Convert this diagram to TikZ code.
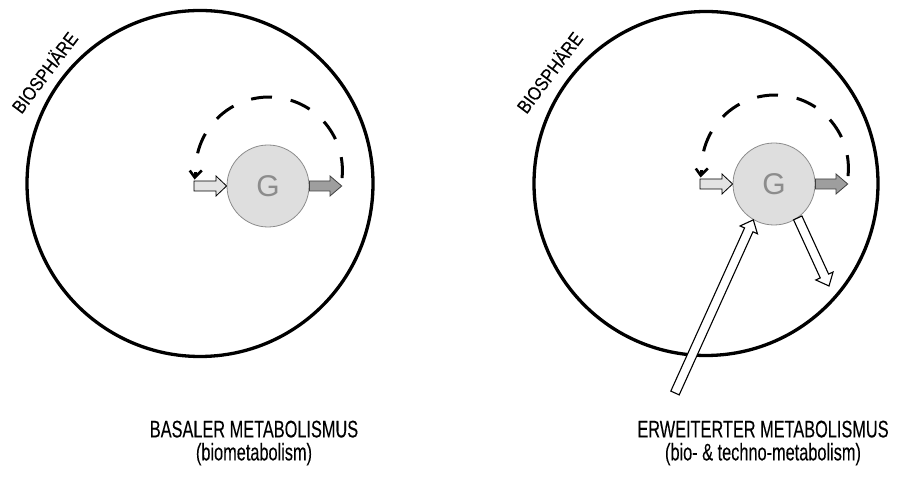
\documentclass[tikz,border=0pt]{standalone}
\usepackage{fontspec}
\setmainfont{Liberation Sans}
\newfontfamily\condfont[FakeStretch=0.68,FakeBold=0.12]{Liberation Sans}
\newfontfamily\biofont[FakeStretch=0.86,FakeBold=0.12]{Liberation Sans}
\usetikzlibrary{calc}

% #1 style, #2 from, #3 to, #4 shaft half width, #5 head half width, #6 head length
\newcommand\blockarrow[6]{%
  \path ($(#3)!#6!(#2)$) coordinate (hb);
  \draw[#1] ($(#2)!#4!90:(#3)$) -- ($(hb)!#4!90:(#3)$) -- ($(hb)!#5!90:(#3)$)
    -- (#3) -- ($(hb)!#5!-90:(#3)$) -- ($(hb)!#4!-90:(#3)$) -- ($(#2)!#4!-90:(#3)$) -- cycle;
}

\tikzset{
  biosphere/.style={draw=black, line width=3.3pt},
  gnode/.style={circle, minimum size=82pt, inner sep=0pt, fill=black!13, draw=black!45,
    line width=0.8pt, text=black!45, font=\fontsize{30}{30}\selectfont},
  inarrow/.style={fill=black!11, draw=black, line width=0.8pt, line join=miter},
  outarrow/.style={fill=black!38, draw=black!75, line width=0.8pt, line join=miter},
  bigarrow/.style={fill=white, draw=black, line width=1.1pt, line join=miter},
  cycarc/.style={line width=3pt, dash pattern=on 21pt off 19pt},
  vtip/.style={line width=2.6pt, line cap=butt, line join=miter},
  lbl/.style={align=center, font=\condfont\fontsize{24}{23}\selectfont},
  bio/.style={font=\biofont\fontsize{19}{19}\selectfont, inner sep=0pt}
}

\begin{document}
\begin{tikzpicture}[x=1pt,y=1pt]
\fill[white] (0,0) rectangle (916,486);
\useasboundingbox (0,0) rectangle (916,486);

% ---------------- left diagram ----------------
\node[biosphere, circle, minimum size=346pt, inner sep=0pt] (B1) at (200,302.5) {};
\node[bio, rotate=53] (T1) at (44,414) {BIOSPHÄRE};
\node[gnode] (G1) at (268,300) {G};
\coordinate (in1) at (194,300);
\coordinate (out1) at (341.7,300);
\blockarrow{inarrow}{in1}{G1.west}{5pt}{10pt}{10.6pt}
\blockarrow{outarrow}{G1.east}{out1}{5pt}{10pt}{11.7pt}
\coordinate (c1) at (269,315.6);
\draw[cycarc] ($(c1)+(-6:73.4)$) arc[start angle=-6, end angle=184, radius=73.4] coordinate (e1);
\draw[vtip] ($(e1)+(-6,5)$) -- ($(e1)+(-1,-2)$) -- ($(e1)+(6,5)$);
\node[lbl] (L1) at (254,43) {BASALER METABOLISMUS\\(biometabolism)};

% ---------------- right diagram ----------------
\node[biosphere, circle, minimum size=344pt, inner sep=0pt] (B2) at (706,302.5) {};
\node[bio, rotate=53] (T2) at (549,414) {BIOSPHÄRE};
\node[gnode] (G2) at (774,302) {G};
\coordinate (in2) at (700,302);
\coordinate (out2) at (847.7,302);
\blockarrow{inarrow}{in2}{G2.west}{5pt}{10pt}{10.6pt}
\blockarrow{outarrow}{G2.east}{out2}{5pt}{10pt}{11.7pt}
\coordinate (c2) at (775,317.6);
\draw[cycarc] ($(c2)+(-6:73.4)$) arc[start angle=-6, end angle=184, radius=73.4] coordinate (e2);
\draw[vtip] ($(e2)+(-6,5)$) -- ($(e2)+(-1,-2)$) -- ($(e2)+(6,5)$);
\coordinate (techin) at (675,93);
\coordinate (techout) at (829,200);
\blockarrow{bigarrow}{techin}{G2.240}{4.6pt}{9.5pt}{11pt}
\blockarrow{bigarrow}{G2.-55}{techout}{4.6pt}{9.5pt}{11pt}
\node[lbl] (L2) at (763,43) {ERWEITERTER METABOLISMUS\\(bio- \& techno-metabolism)};
\end{tikzpicture}
\end{document}
